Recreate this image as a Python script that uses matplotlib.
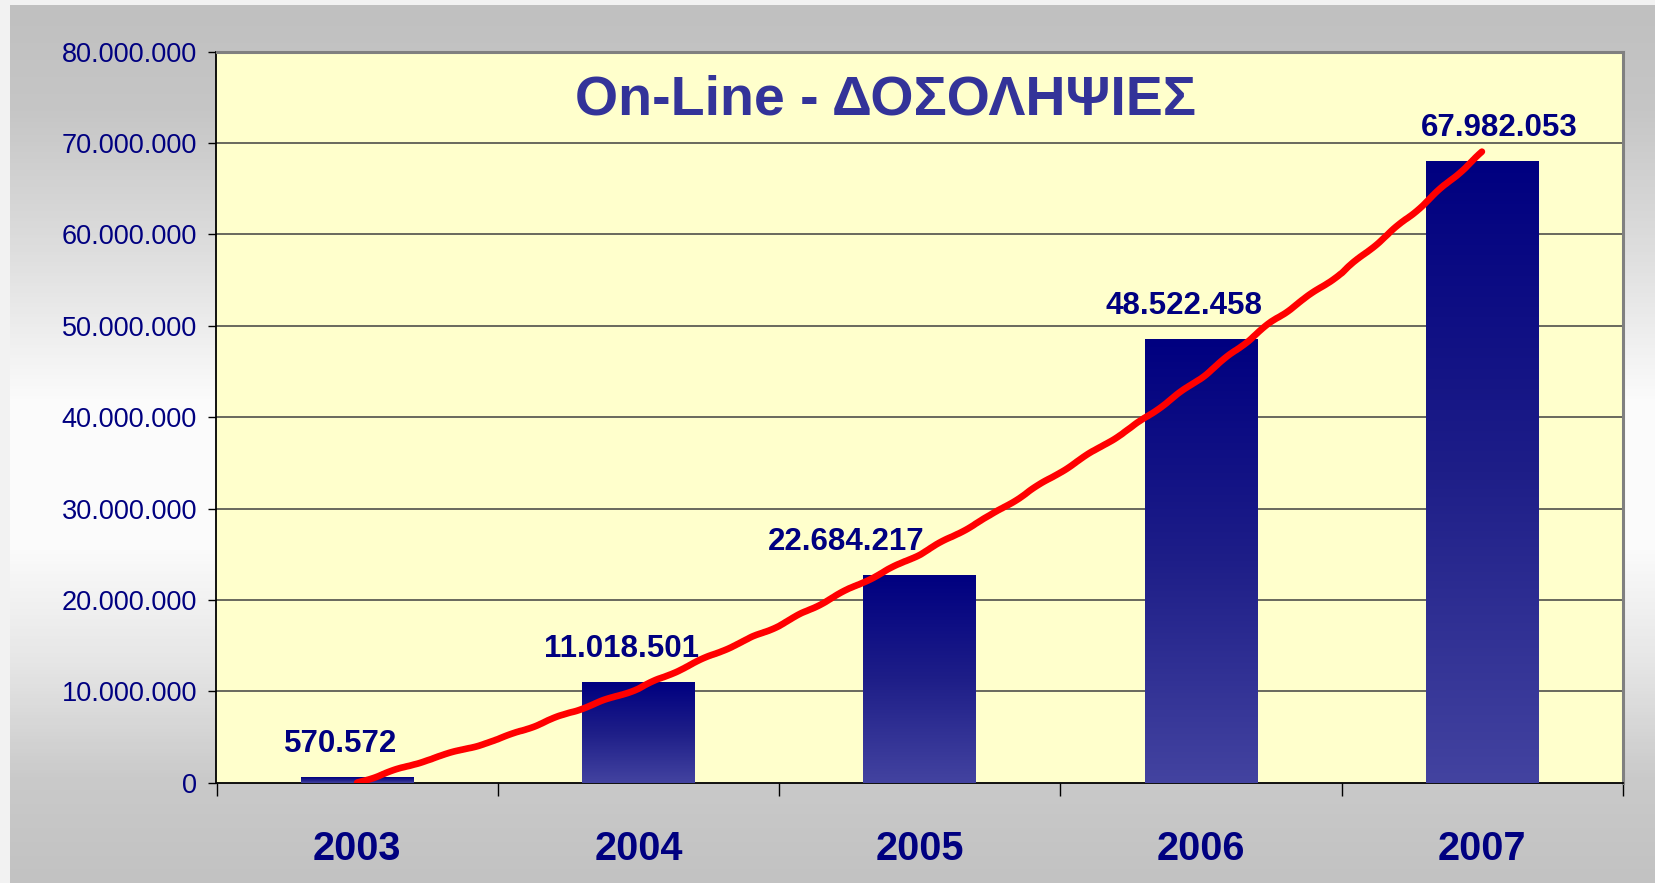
import numpy as np
import matplotlib.pyplot as plt
from matplotlib.colors import LinearSegmentedColormap
from matplotlib.ticker import FuncFormatter, FixedLocator

plt.rcParams['font.family'] = ['Liberation Sans', 'DejaVu Sans']

# Dados do gráfico
anos = ['2003', '2004', '2005', '2006', '2007']
valores = [570572, 11018501, 22684217, 48522458, 67982053]
rotulos = ['570.572', '11.018.501', '22.684.217', '48.522.458', '67.982.053']

# Linha vermelha (tendência desenhada à mão)
tendencia_pos = [0, 0.25, 0.5, 0.75, 1.0, 1.25, 1.5, 1.75, 2.0,
                 2.25, 2.5, 2.75, 3.0, 3.25, 3.5, 3.75, 4.0]
tendencia_val = [0, 2.5e6, 4.7e6, 7.6e6, 10.3e6, 13.8e6, 17.2e6, 21.2e6, 25.0e6,
                 29.2e6, 34.0e6, 38.8e6, 44.3e6, 50.4e6, 55.8e6, 62.2e6, 69.0e6]

azul = '#000080'

fig = plt.figure(figsize=(16.56, 8.83), dpi=100, facecolor='#f2f2f2')

# Fundo cinza em degradê
fundo = fig.add_axes([10 / 1656, 0, 1 - 10 / 1656, 878 / 883])
fundo.set_axis_off()
cmap_fundo = LinearSegmentedColormap.from_list('fundo', [
    (0.0, '#c0c0c0'), (0.12, '#c6c6c6'), (0.28, '#dedede'), (0.45, '#fbfbfb'),
    (0.62, '#fbfbfb'), (0.75, '#e6e6e6'), (0.88, '#cacaca'), (1.0, '#c2c2c2')])
grad = np.linspace(0, 1, 256).reshape(-1, 1)
fundo.imshow(grad, cmap=cmap_fundo, aspect='auto', extent=[0, 1, 0, 1], origin='upper')

ax = fig.add_axes([216.5 / 1656, 100.4 / 883, 1406.5 / 1656, 730.9 / 883])
ax.set_facecolor('#ffffcc')

x = np.arange(len(anos))
barras = ax.bar(x, valores, width=0.4, color=azul, zorder=2)

# Degradê nas barras: escuro em cima, mais claro embaixo
cmap_barra = LinearSegmentedColormap.from_list('barra', ['#4343a0', '#1e1e88', '#000080'])
for b in barras:
    im = ax.imshow(grad, cmap=cmap_barra, aspect='auto', origin='lower',
                   extent=[b.get_x(), b.get_x() + b.get_width(), 0, b.get_height()],
                   zorder=3)
    im.set_clip_path(b)

# Linha vermelha
linha, = ax.plot(tendencia_pos, tendencia_val, color='#ff0000', lw=4.8,
                 solid_capstyle='round', solid_joinstyle='round', zorder=5)
linha.set_sketch_params(scale=0.7, length=60, randomness=2)

# Rótulos de dados
desloc = [-0.06, -0.06, -0.26, -0.06, 0.06]
for i, (v, r) in enumerate(zip(valores, rotulos)):
    ax.annotate(r, (x[i] + desloc[i], v), xytext=(0, 18), textcoords='offset points',
                ha='center', va='baseline', fontsize=22.5, fontweight='bold',
                color=azul, zorder=6)

ax.set_xlim(-0.5, 4.5)
ax.set_ylim(0, 80e6)

# Eixo y
ax.set_yticks(np.arange(0, 80e6 + 1, 10e6))
ax.yaxis.set_major_formatter(FuncFormatter(lambda v, p: f'{v:,.0f}'.replace(',', '.')))
ax.tick_params(axis='y', labelsize=19.5, labelcolor=azul, length=6, width=1,
               color='black', pad=8)
for yv in np.arange(10e6, 80e6, 10e6):
    ax.axhline(yv, color='#404040', lw=1.1, zorder=1)

# Eixo x
ax.set_xticks(x)
ax.set_xticklabels(anos, fontsize=28.5, fontweight='bold', color=azul)
ax.tick_params(axis='x', which='major', length=0, pad=34)
ax.xaxis.set_minor_locator(FixedLocator(np.arange(-0.5, 4.6, 1)))
ax.tick_params(axis='x', which='minor', length=9, width=1, color='black')

for lado in ['left', 'bottom']:
    ax.spines[lado].set_color('black')
    ax.spines[lado].set_linewidth(1.3)
for lado in ['top', 'right']:
    ax.spines[lado].set_color('#808080')
    ax.spines[lado].set_linewidth(2.2)

# Título
ax.text(0.476, 0.914, 'On-Line - ΔΟΣΟΛΗΨΙΕΣ', transform=ax.transAxes,
        ha='center', va='baseline', fontsize=40, fontweight='bold',
        color='#333399', zorder=6)

fig.savefig('out.png', dpi=100, facecolor=fig.get_facecolor())
